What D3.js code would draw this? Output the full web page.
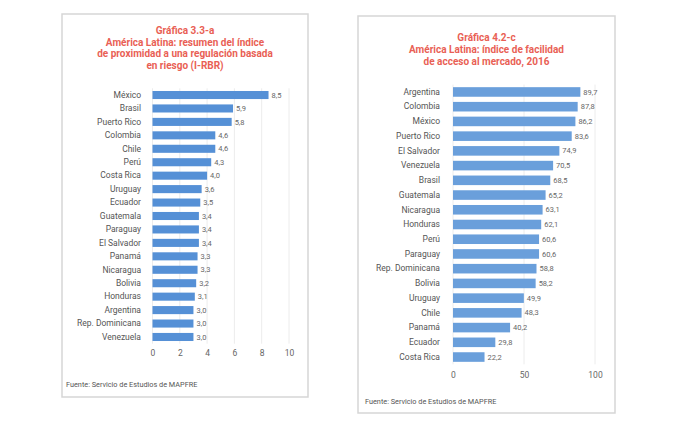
<!DOCTYPE html>
<html><head><meta charset="utf-8">
<script src="https://cdn.jsdelivr.net/npm/d3@7"></script>
<style>
html,body{margin:0;padding:0;background:#fff;}
svg{display:block;font-family:Roboto,"DejaVu Sans",sans-serif;}
</style></head>
<body>
<svg id="c" width="680" height="425"></svg>
<script>
// Left chart data
const leftTitle = ["Gráfica 3.3-a","América Latina: resumen del índice","de proximidad a una regulación basada","en riesgo (I-RBR)"];
const leftCategories = ["México","Brasil","Puerto Rico","Colombia","Chile","Perú","Costa Rica","Uruguay","Ecuador","Guatemala","Paraguay","El Salvador","Panamá","Nicaragua","Bolivia","Honduras","Argentina","Rep. Dominicana","Venezuela"];
const leftValues = [8.5,5.9,5.8,4.6,4.6,4.3,4.0,3.6,3.5,3.4,3.4,3.4,3.3,3.3,3.2,3.1,3.0,3.0,3.0];
const leftTicks = [0,2,4,6,8,10];

// Right chart data
const rightTitle = ["Gráfica 4.2-c","América Latina: índice de facilidad","de acceso al mercado, 2016"];
const rightCategories = ["Argentina","Colombia","México","Puerto Rico","El Salvador","Venezuela","Brasil","Guatemala","Nicaragua","Honduras","Perú","Paraguay","Rep. Dominicana","Bolivia","Uruguay","Chile","Panamá","Ecuador","Costa Rica"];
const rightValues = [89.7,87.8,86.2,83.6,74.9,70.5,68.5,65.2,63.1,62.1,60.6,60.6,58.8,58.2,49.9,48.3,40.2,29.8,22.2];
const rightTicks = [0,50,100];

const source = "Fuente: Servicio de Estudios de MAPFRE";
const fmt = v => d3.format(".1f")(v).replace(".", ",");

const svg = d3.select("#c");

function panel(o){
  const g = svg.append("g");
  g.append("rect").attr("x",o.px0).attr("y",o.py0).attr("width",o.px1-o.px0).attr("height",o.py1-o.py0)
    .attr("fill","#fff").attr("stroke","#d6d6d6").attr("stroke-width",1.5);
  const cx = (o.px0+o.px1)/2;
  o.title.forEach((t,i)=>{
    g.append("text").attr("x",cx).attr("y",o.ty0 + i*o.tdy).attr("text-anchor","middle")
      .attr("font-size",10).attr("font-weight","bold").attr("fill","#e95f55").text(t);
  });
  const x = d3.scaleLinear().domain(o.domain).range([o.x0,o.x1]);
  const y = d3.scaleBand().domain(o.cats).range([o.y0,o.y1]).paddingInner(o.pad).paddingOuter(o.pad/2);
  // gridlines
  g.append("g").selectAll("line").data(o.ticks).join("line")
    .attr("x1",d=>x(d)).attr("x2",d=>x(d)).attr("y1",o.y0).attr("y2",o.y1)
    .attr("stroke","#ececec").attr("stroke-width",1);
  // bars
  g.append("g").selectAll("rect").data(o.vals).join("rect")
    .attr("x",x(0)).attr("y",(d,i)=>y(o.cats[i])).attr("width",d=>x(d)-x(0)).attr("height",y.bandwidth())
    .attr("fill",o.color);
  // value labels
  g.append("g").selectAll("text").data(o.vals).join("text")
    .attr("x",d=>x(d)+3).attr("y",(d,i)=>y(o.cats[i])+y.bandwidth()/2).attr("dy","0.35em")
    .attr("font-size",7.5).attr("fill","#666").text(d=>fmt(d));
  // category axis
  const ya = d3.axisLeft(y).tickSize(0).tickPadding(0);
  const yg = g.append("g").attr("transform",`translate(${o.labX},0)`).call(ya);
  yg.select(".domain").remove();
  yg.selectAll("text").attr("font-size",8.5).attr("fill","#555").attr("font-family","Roboto,sans-serif");
  // x axis
  const xa = d3.axisBottom(x).tickValues(o.ticks).tickSize(0).tickPadding(0).tickFormat(d=>d);
  const xg = g.append("g").attr("transform",`translate(0,${o.axY})`).call(xa);
  xg.select(".domain").remove();
  xg.selectAll("text").attr("font-size",8.5).attr("fill","#666").attr("font-family","Roboto,sans-serif");
  g.append("text").attr("x",o.srcX).attr("y",o.srcY).attr("font-size",7.3).attr("fill","#555").text(source);
}

panel({px0:62,py0:14,px1:308,py1:397,title:leftTitle,ty0:34,tdy:11.6,
  domain:[0,10],x0:152.5,x1:289,cats:leftCategories,vals:leftValues,ticks:leftTicks,
  y0:88.3,y1:343.7,pad:0.4,color:"#5590d6",labX:141,axY:350,srcX:66,srcY:387});

panel({px0:358,py0:16,px1:615,py1:413,title:rightTitle,ty0:41,tdy:11.8,
  domain:[0,100],x0:453,x1:595,cats:rightCategories,vals:rightValues,ticks:rightTicks,
  y0:84.6,y1:364.4,pad:0.35,color:"#6a9fdb",labX:440,axY:372,srcX:365,srcY:404});
</script>
</body></html>
